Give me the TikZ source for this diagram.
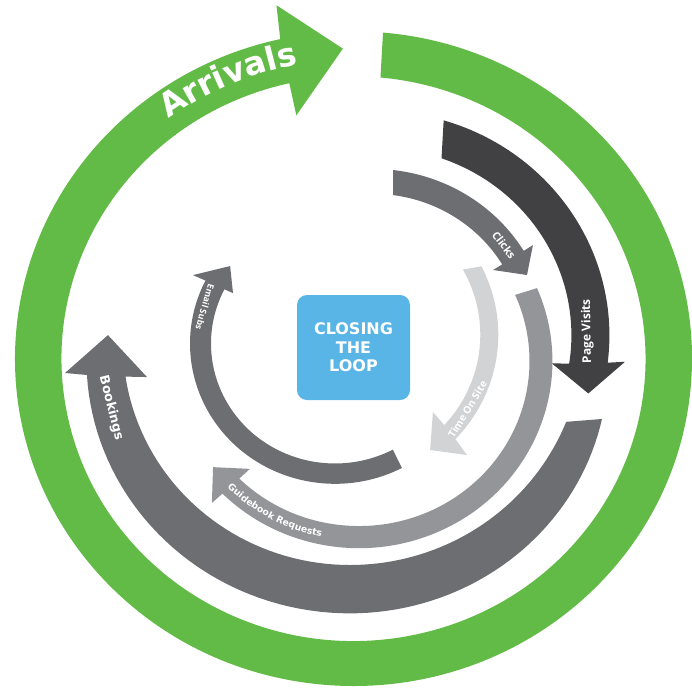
\documentclass[tikz,border=0pt]{standalone}
\usepackage{fontspec}
\newfontfamily\vfont{DejaVu Sans}
\newfontfamily\ofont{Open Sans}
\usetikzlibrary{decorations.text}
\definecolor{grn}{HTML}{62BB46}
\definecolor{pvis}{HTML}{414042}
\definecolor{midg}{HTML}{6D6E71}
\definecolor{guideg}{HTML}{939598}
\definecolor{lightg}{HTML}{D1D3D4}
\definecolor{boxblue}{HTML}{58B5E6}
\tikzset{
  lbl/.style={text=white, inner sep=0pt, font=\ofont\bfseries},
  vlbl/.style={text=white, inner sep=0pt, font=\vfont\bfseries},
}
\begin{document}
\begin{tikzpicture}[x=1pt,y=0.967pt]
\useasboundingbox (-354,-343.3) rectangle (338,372.3);

% ---------- green Arrivals ring ----------
\begin{scope}[shift={(-0.5,1.4)}]
\fill[grn] (85:338.5) arc[start angle=85, end angle=-257.5, radius=338.5]
  -- (101.9:373.5) -- (91.9:320.8) -- (102.8:258) -- (-257.3:292)
  arc[start angle=-257.3, end angle=84.7, radius=292] -- cycle;
\path[decorate, decoration={text along path, text align=center,
  text={|\vfont\bfseries\fontsize{32.5}{34}\selectfont\color{white}|Arrivals}}]
  (140.1:309) arc[start angle=140.1, end angle=87.1, radius=309];
\end{scope}

% ---------- Bookings ----------
\begin{scope}[shift={(-4.1,8)}]
\fill[midg] plot[domain=-15.3:-90, samples=40] (\x:{245+25-8.7*((\x+90)/75)*((\x+90)/75)})
  -- plot[domain=-90:-174.9, samples=40] (\x:{245+25-6*((\x+90)/85)*((\x+90)/85)})
  -- (-175.7:285.7) -- (-184.2:242.6) -- (-172.8:204.5)
  -- plot[domain=-173.6:-90, samples=40] (\x:{245-25+6*((\x+90)/85)*((\x+90)/85)})
  -- plot[domain=-90:-18.4, samples=40] (\x:{245-25+8.7*((\x+90)/75)*((\x+90)/75)})
  -- cycle;
\node[vlbl, font=\vfont\bfseries\fontsize{12.8}{14}\selectfont, rotate=-76] (bookings) at (193.6:245.7) {Bookings};
\end{scope}

% ---------- Guidebook Requests ----------
\begin{scope}[shift={(5,-1.2)}]
\fill[guideg] (23:193.4) arc[start angle=23, end angle=-134.9, radius=193.4]
  -- (-135.1:207.7) -- (-143.1:182.5) -- (-134.4:155.9) -- (-134.6:170.5)
  arc[start angle=-134.6, end angle=23.7, radius=170.5] -- cycle;
\path[decorate, decoration={text along path, text align=center,
  text={|\vfont\bfseries\fontsize{9.3}{11}\selectfont\color{white}|Guidebook Requests}}]
  (222:185.5) arc[start angle=222, end angle=261, radius=185.5];
\end{scope}

% ---------- Page Visits ----------
\begin{scope}[shift={(23.4,25.5)}]
\fill[pvis] (73.4:232) arc[start angle=73.4, end angle=-7.0, radius=232]
  -- (-6.3:249.1) -- (-15.9:219.3) -- (-9.4:176.7) -- (-8.7:194)
  arc[start angle=-8.7, end angle=70.7, radius=194] -- cycle;
\node[lbl, font=\ofont\bfseries\fontsize{12}{14}\selectfont, rotate=91] (pagevisits) at (1.2:210) {Page Visits};
\end{scope}

% ---------- Clicks ----------
\begin{scope}[shift={(19.1,21.3)}]
\fill[midg] (83.5:176.3) arc[start angle=83.5, end angle=31.3, radius=176.3]
  -- (31.4:187.3) -- (23.4:167.7) -- (30.9:139.8) -- (31:150.6)
  arc[start angle=31, end angle=82.4, radius=150.6] -- cycle;
\node[lbl, font=\ofont\bfseries\fontsize{10.8}{12}\selectfont, rotate=-53] (clicks) at (36.7:163.3) {Clicks};
\end{scope}

% ---------- Time On Site ----------
\begin{scope}[shift={(-12.7,26.1)}]
\fill[lightg] (26.8:157) arc[start angle=26.8, end angle=-43.4, radius=157]
  -- (-44.7:176.8) -- (-53.3:148.6) -- (-41.1:121.6) -- (-42.2:139)
  arc[start angle=-42.2, end angle=29, radius=139] -- cycle;
\node[lbl, font=\ofont\bfseries\fontsize{10.2}{12}\selectfont, rotate=58.6] (timeonsite) at (-31.4:147.8) {Time On Site};
\end{scope}

% ---------- Email Subs ----------
\begin{scope}[shift={(-19,17)}]
\fill[midg] (-62.5:145) arc[start angle=-62.5, end angle=-206.7, radius=145]
  -- (-206.5:158.7) -- (-217.4:132) -- (-207.1:114.6) -- (-206.9:124)
  arc[start angle=-206.9, end angle=-62.2, radius=124] -- cycle;
\node[lbl, font=\ofont\bfseries\fontsize{8.8}{10}\selectfont, rotate=-106] (emailsubs) at (163.8:135.4) {Email Subs};
\end{scope}

% ---------- centre box ----------
\node[fill=boxblue, rounded corners=10pt, minimum width=113pt, minimum height=105pt,
  text=white, align=center, inner sep=0pt,
  font=\vfont\bfseries\fontsize{16}{18.5}\selectfont] (box) at (-0.5,12.9) {CLOSING\\THE\\LOOP};
\end{tikzpicture}
\end{document}
